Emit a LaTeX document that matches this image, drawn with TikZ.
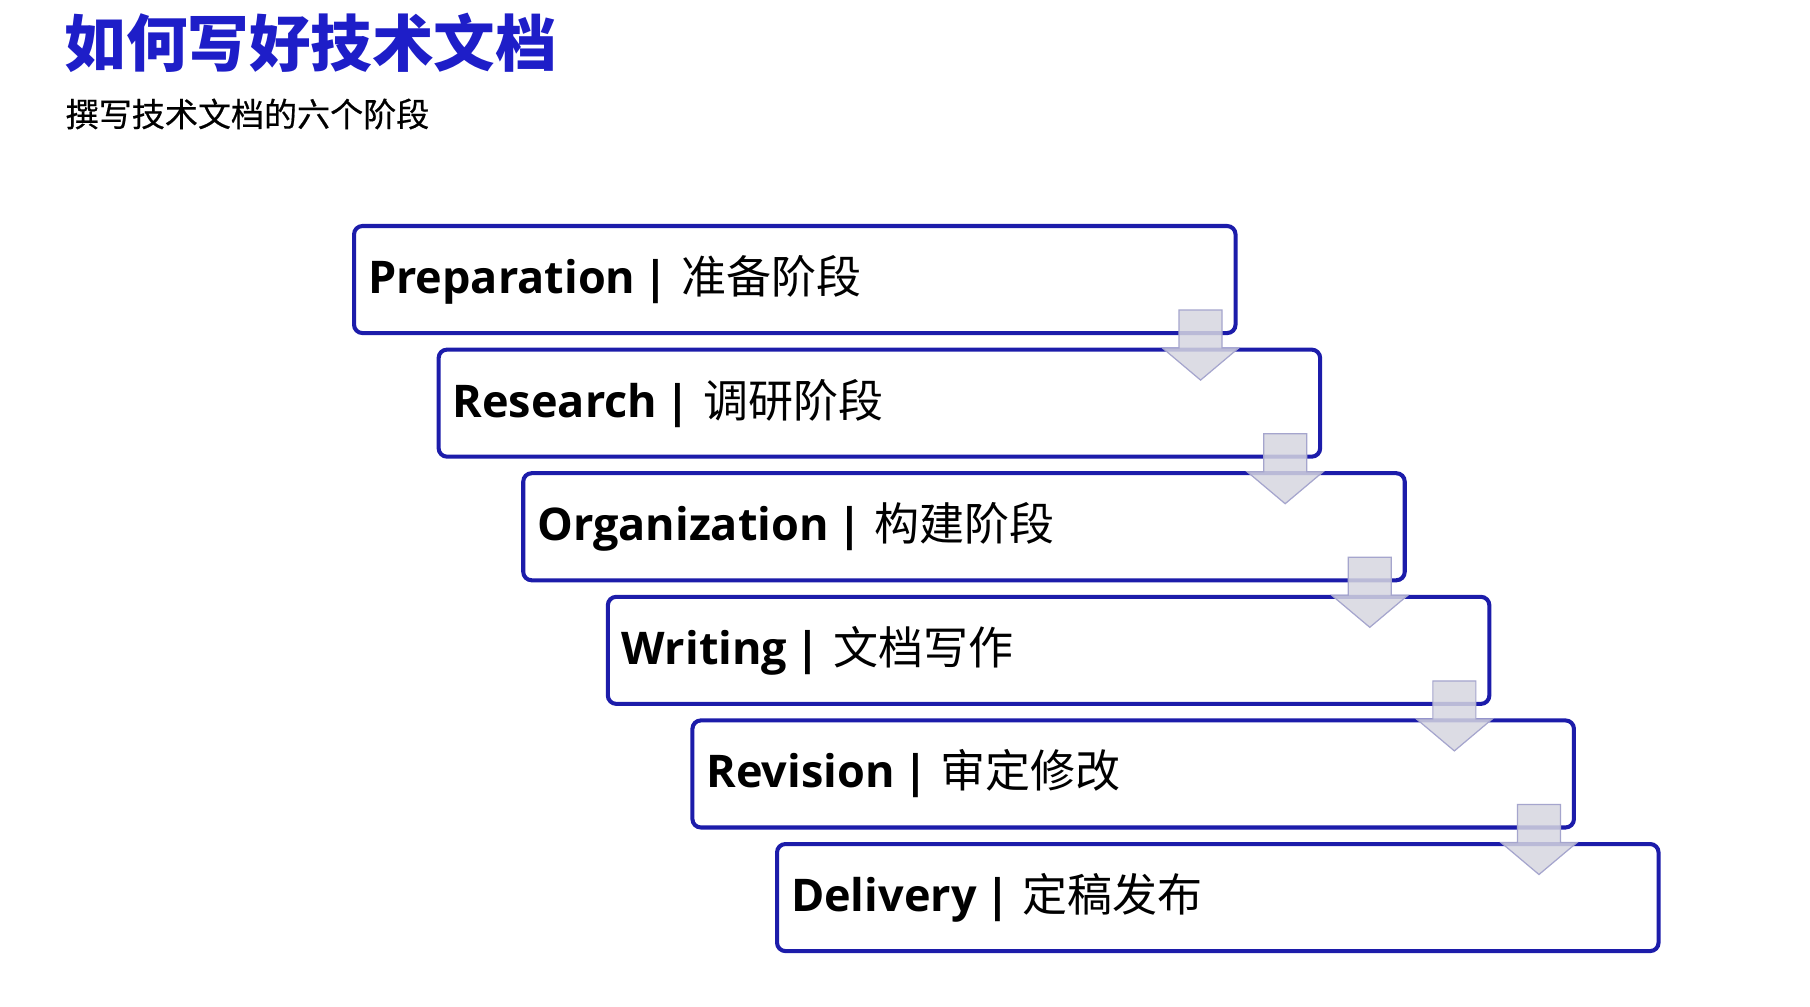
\documentclass[tikz,border=0pt]{standalone}
\usepackage{fontspec}
\setmainfont{Open Sans}
\newfontfamily\cjk{Noto Sans CJK SC}
\newfontfamily\cjksub[FakeBold=0.5]{Noto Sans CJK SC}
\usetikzlibrary{calc}
\definecolor{stageblue}{RGB}{28,28,170}
\definecolor{titleblue}{RGB}{30,30,200}
\definecolor{arrowfill}{RGB}{214,214,224}
\definecolor{arrowline}{RGB}{165,165,205}

\begin{document}
\begin{tikzpicture}[x=0.01cm,y=0.01cm]
    \tikzset{stage box/.style={draw=stageblue, line width=1.15pt, rounded corners=2.4pt,
            fill=white, anchor=north west, minimum height=1.07cm, text width=8.53cm,
            inner xsep=0.14cm, align=left, font=\fontsize{12.8}{16}\selectfont},
        stage arrow/.style={fill=arrowfill, draw=arrowline, line width=0.35pt, fill opacity=0.85}}
    \useasboundingbox (0,0) rectangle (1810,1006);

    \node[anchor=west, inner sep=0pt, text=titleblue, font=\cjk\bfseries\fontsize{17.5}{20}\selectfont]
        (title) at (64,963) {如何写好技术文档};
    \node[anchor=west, inner sep=0pt, font=\cjksub\fontsize{9.4}{11}\selectfont]
        (subtitle) at (65,892) {撰写技术文档的六个阶段};

    \foreach \name/\en/\zh [count=\i from 0] in {prep/Preparation/准备阶段, res/Research/调研阶段,
            org/Organization/构建阶段, wri/Writing/文档写作, rev/Revision/审定修改, del/Delivery/定稿发布}
        \node[stage box] (\name) at (352+84.6*\i, 782-123.6*\i)
            {\textbf{\en\hspace{2.4pt}|}\hspace{3.6pt}{\cjk\zh}};

    \foreach \a in {prep, res, org, wri, rev}
        \draw[stage arrow]
            ($(\a.south east)+(-15.5,25)$) -- ($(\a.south east)+(-58.5,25)$)
            -- ($(\a.south east)+(-58.5,-13)$) -- ($(\a.south east)+(-75,-13)$)
            -- ($(\a.south east)+(-37,-45)$) -- ($(\a.south east)+(1,-13)$)
            -- ($(\a.south east)+(-15.5,-13)$) -- cycle;
\end{tikzpicture}
\end{document}
